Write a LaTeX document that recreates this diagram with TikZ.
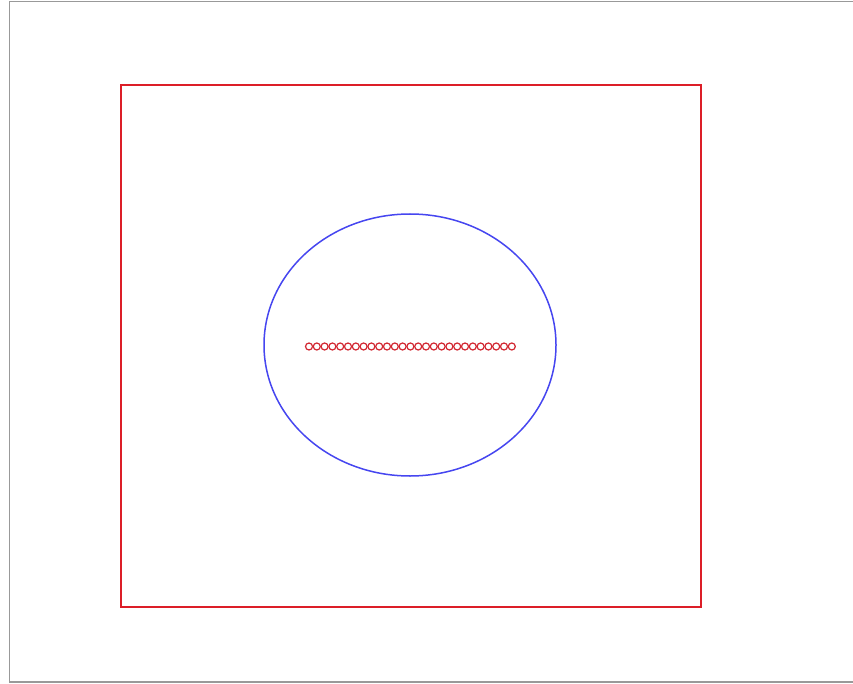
\documentclass[tikz,border=0pt]{standalone}
\usetikzlibrary{shapes.geometric}
\begin{document}
\begin{tikzpicture}[x=1pt,y=-1pt,
  frameline/.style={draw=gray!80,line width=1.5pt},
  redbox/.style={draw={rgb,255:red,220;green,30;blue,40},line width=1.8pt},
  blueoval/.style={draw={rgb,255:red,70;green,70;blue,240},line width=1.5pt},
  dot/.style={draw={rgb,255:red,210;green,40;blue,50},line width=1.2pt}]
\useasboundingbox (0,0) rectangle (853,684);
\fill[white] (0,0) rectangle (853,684);
\draw[frameline] (853,1.5) -- (9.5,1.5) -- (9.5,682) -- (853,682);
\node[redbox,minimum width=580pt,minimum height=522pt,inner sep=0pt] (box) at (411,346) {};
\node[blueoval,ellipse,minimum width=292pt,minimum height=262pt,inner sep=0pt] (oval) at (410,345) {};
\foreach \i in {0,...,26} {
  \draw[dot] ({309+\i*7.8},346.5) circle (3.5);
}
\end{tikzpicture}
\end{document}
